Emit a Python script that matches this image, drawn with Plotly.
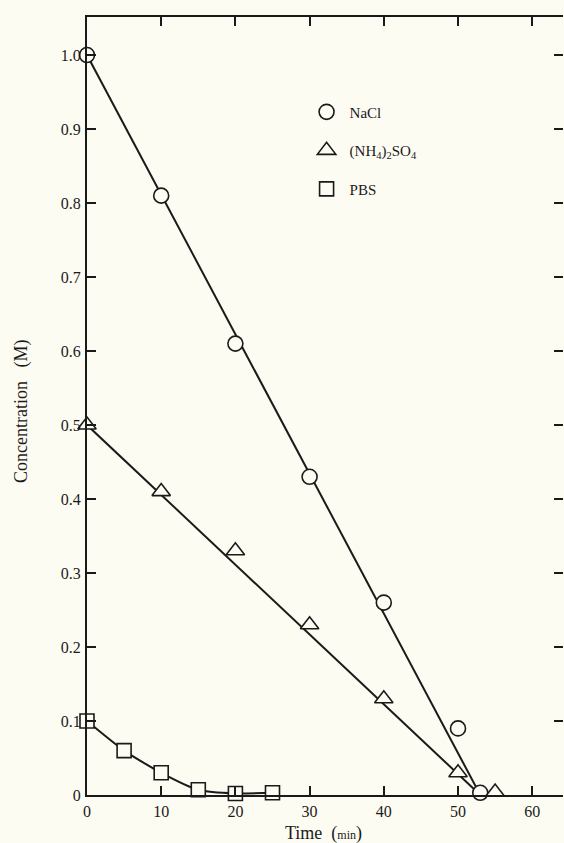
import plotly.graph_objects as go

# ---- data ----
nacl_t = [0, 10, 20, 30, 40, 50, 53]
nacl_c = [1.00, 0.81, 0.61, 0.43, 0.26, 0.09, 0.003]
nacl_fit_t = [0, 53]
nacl_fit_c = [1.00, 0.0]

amsulf_t = [0, 10, 20, 30, 40, 50, 55]
amsulf_c = [0.50, 0.41, 0.33, 0.23, 0.13, 0.03, 0.004]
amsulf_fit_t = [0, 53]
amsulf_fit_c = [0.50, 0.0]

pbs_t = [0, 5, 10, 15, 20, 25]
pbs_c = [0.10, 0.06, 0.03, 0.007, 0.002, 0.003]

x_ticks = [0, 10, 20, 30, 40, 50, 60]
y_ticks = [0, 0.1, 0.2, 0.3, 0.4, 0.5, 0.6, 0.7, 0.8, 0.9, 1.0]
y_tick_text = ["0", "0.1", "0.2", "0.3", "0.4", "0.5", "0.6", "0.7", "0.8", "0.9", "1.0"]

BG = "#fdfcf3"
FONT = "Liberation Serif"
LC = "#1a1a1a"

fig = go.Figure()

# fit / connecting lines (drawn first, under markers)
fig.add_trace(go.Scatter(x=nacl_fit_t, y=nacl_fit_c, mode="lines",
                         line=dict(color=LC, width=2), showlegend=False, cliponaxis=False))
fig.add_trace(go.Scatter(x=amsulf_fit_t, y=amsulf_fit_c, mode="lines",
                         line=dict(color=LC, width=2), showlegend=False, cliponaxis=False))
fig.add_trace(go.Scatter(x=pbs_t, y=pbs_c, mode="lines",
                         line=dict(color=LC, width=2, shape="spline", smoothing=0.6),
                         showlegend=False, cliponaxis=False))

mk = dict(color=BG, line=dict(color=LC, width=1.6))
fig.add_trace(go.Scatter(x=nacl_t, y=nacl_c, mode="markers", name="NaCl",
                         marker=dict(symbol="circle", size=15, **mk),
                         legendgroup="a", cliponaxis=False))
fig.add_trace(go.Scatter(x=amsulf_t, y=amsulf_c, mode="markers",
                         name="(NH<sub>4</sub>)<sub>2</sub>SO<sub>4</sub>",
                         marker=dict(symbol="triangle-up", size=16, **mk),
                         legendgroup="b", cliponaxis=False))
fig.add_trace(go.Scatter(x=pbs_t, y=pbs_c, mode="markers", name="PBS",
                         marker=dict(symbol="square", size=14, **mk),
                         legendgroup="c", cliponaxis=False))
# invisible trace so the right-hand tick axis is drawn
fig.add_trace(go.Scatter(x=nacl_fit_t, y=nacl_fit_c, yaxis="y2", mode="lines",
                         line=dict(width=0), opacity=0, showlegend=False,
                         hoverinfo="skip"))

fig.update_layout(
    width=564, height=843,
    margin=dict(l=87, r=1, t=17, b=48),
    paper_bgcolor=BG, plot_bgcolor=BG,
    font=dict(family=FONT, size=16, color=LC),
    showlegend=True,
    legend=dict(x=0.455, y=0.899, xanchor="left", yanchor="top",
                bgcolor="rgba(0,0,0,0)", tracegroupgap=16,
                font=dict(family=FONT, size=15, color=LC),
                itemwidth=36),
    xaxis=dict(range=[0, 64.15], tickvals=x_ticks, ticks="inside", ticklen=9,
               tickwidth=1.5, tickcolor=LC, showline=True, linecolor=LC, linewidth=2,
               mirror="ticks", showgrid=False, zeroline=False,
               ticklabelstandoff=1, tickfont=dict(size=16)),
    yaxis=dict(range=[0, 1.0514], tickvals=y_ticks, ticktext=y_tick_text,
               ticks="inside", ticklen=9, tickwidth=1.5, tickcolor=LC,
               showline=True, linecolor=LC, linewidth=2, mirror=False,
               showgrid=False, zeroline=False, ticklabelstandoff=1,
               tickfont=dict(size=16)),
    yaxis2=dict(overlaying="y", side="right", matches="y", tickvals=y_ticks,
                ticks="inside", ticklen=9, tickwidth=1.5, tickcolor=LC,
                showline=False, showticklabels=False, showgrid=False,
                zeroline=False),
    annotations=[
        dict(text="Time\u00a0\u00a0(<span style='font-size:12px'>min</span>)",
             xref="paper", yref="paper",
             x=0.497, y=-0.049, xanchor="center", yanchor="middle", showarrow=False,
             font=dict(family=FONT, size=18, color=LC)),
        dict(text="Concentration\u00a0\u00a0\u00a0(M)", xref="paper", yref="paper",
             x=-0.1366, y=0.4936, xanchor="center", yanchor="middle", showarrow=False,
             textangle=-90, font=dict(family=FONT, size=18, color=LC)),
    ],
)

fig.write_html("out.html", config={"displayModeBar": False},
               post_script="document.body.style.margin='0';")
